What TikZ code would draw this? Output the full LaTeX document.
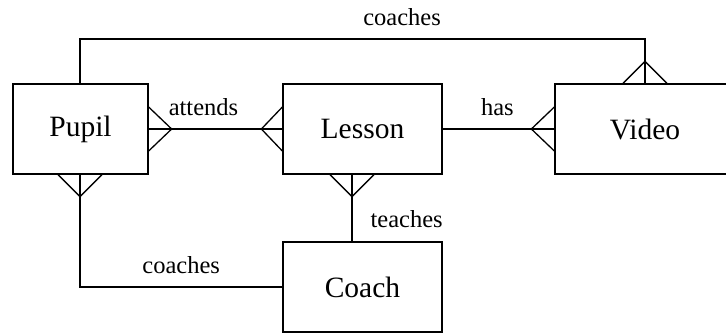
\documentclass[tikz,border=0pt]{standalone}
\usepackage{fontspec}
\setmainfont{Liberation Serif}
\usetikzlibrary{calc}
\begin{document}
\begin{tikzpicture}[x=1pt,y=-1pt,line width=1.3pt,
  entity/.style={draw,rectangle,minimum height=90pt,inner sep=0pt,
    font=\fontsize{29.5}{34}\selectfont},
  rel/.style={font=\fontsize{24.5}{29}\selectfont,inner sep=0pt,anchor=base,yshift=14pt}]
\useasboundingbox (0,0) rectangle (726,333);
\begin{scope}
\clip (0,0) rectangle (726,334);
% entities
\node[entity,minimum width=135pt] (pupil) at (80.5,129) {Pupil};
\node[entity,minimum width=159pt] (lesson) at (362.5,129) {Lesson};
\node[entity,minimum width=180pt,text width=180pt,align=center] (video) at (645,129) {Video};
\node[entity,minimum width=159pt] (coach) at (362.5,287) {Coach};

% relationship lines
\coordinate (pt) at ($(pupil.north)+(-0.5,0)$);
\coordinate (vt) at (video.north);
\draw (pt) -- (pt |- 0,39) -- node[rel,pos=0.57] {coaches} (vt |- 0,39) -- (vt);
\draw (pupil.east) -- node[rel,pos=0.41] {attends} (lesson.west);
\draw (lesson.east) -- node[rel,pos=0.49] {has} (video.west);
\coordinate (pb) at ($(pupil.south)+(-0.5,0)$);
\draw (pb) -- (pb |- 0,287) -- node[rel,pos=0.5] {coaches} (coach.west);
\coordinate (lb) at ($(lesson.south)+(-10.5,0)$);
\draw (lb) -- node[rel,anchor=base west,yshift=-14pt,xshift=18pt,pos=0.79] {teaches} (lb |- coach.north);

% crow's feet
\draw ($(pupil.east)+(0,-22)$) -- ($(pupil.east)+(23,0)$) -- ($(pupil.east)+(0,22)$);
\draw ($(lesson.west)+(0,-22)$) -- ($(lesson.west)+(-21,0)$) -- ($(lesson.west)+(0,22)$);
\draw ($(video.west)+(0,-22)$) -- ($(video.west)+(-23,0)$) -- ($(video.west)+(0,22)$);
\draw ($(vt)+(-22,0)$) -- ($(vt)+(0,-22)$) -- ($(vt)+(22,0)$);
\draw ($(pb)+(-22,0)$) -- ($(pb)+(0,22)$) -- ($(pb)+(22,0)$);
\draw ($(lb)+(-22,0)$) -- ($(lb)+(0,22)$) -- ($(lb)+(22,0)$);
\end{scope}
\end{tikzpicture}
\end{document}
